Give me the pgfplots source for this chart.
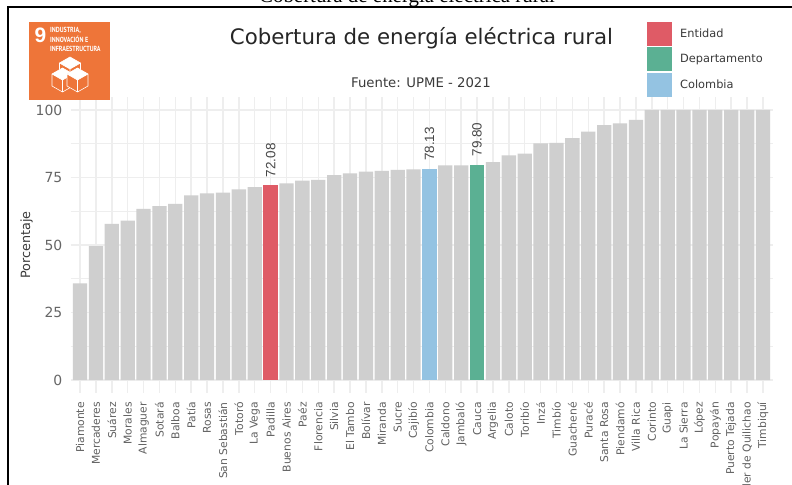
\documentclass[border=0pt]{standalone}
\usepackage{fontspec}
\setmainfont{DejaVu Sans}
\newfontfamily\capfont{Liberation Serif}
\newfontfamily\valfont{Liberation Sans}
\newfontfamily\logofont{PT Sans}
\usepackage{pgfplots}
\usepackage{pgfplotstable}
\pgfplotsset{compat=1.18}

\definecolor{barra}{HTML}{CFCFCF}
\definecolor{rejilla}{HTML}{EEEEEE}
\definecolor{entidad}{HTML}{DF5B66}
\definecolor{depto}{HTML}{5BB093}
\definecolor{colombia}{HTML}{94C3E2}
\definecolor{ods}{HTML}{EE7539}
\definecolor{texto}{HTML}{3A3A3A}

% idx = posicion en el eje, val = porcentaje
\pgfplotstableread{
idx val
0 35.8
1 49.6
2 57.8
3 59.0
4 63.4
5 64.4
6 65.2
7 68.4
8 69.1
9 69.4
10 70.6
11 71.4
13 72.8
14 73.8
15 74.1
16 75.9
17 76.5
18 77.2
19 77.4
20 77.8
21 78.0
23 79.5
24 79.5
26 80.7
27 83.2
28 83.8
29 87.6
30 87.8
31 89.6
32 92.0
33 94.4
34 95.0
35 96.3
36 100
37 100
38 100
39 100
40 100
41 100
42 100
43 100
}\municipios

\newcommand{\cubo}[2]{%
  \begin{scope}[shift={(#1,#2)}, draw=white, line width=0.6pt, line join=round]
    \fill[ods] (0,12) -- (10.5,6) -- (10.5,-6) -- (0,-12) -- (-10.5,-6) -- (-10.5,6) -- cycle;
    \fill[white] (0,12) -- (10.5,6) -- (0,0) -- (-10.5,6) -- cycle;
    \draw (0,12) -- (10.5,6) -- (10.5,-6) -- (0,-12) -- (-10.5,-6) -- (-10.5,6) -- cycle;
    \draw (-10.5,6) -- (0,0) -- (10.5,6) (0,0) -- (0,-12);
  \end{scope}}

\begin{document}
\begin{tikzpicture}[x=1bp, y=1bp]
\useasboundingbox (0,0) rectangle (792,485);
\clip (0,0) rectangle (792,485);

% leyenda de la pagina, cortada arriba
\node[anchor=base, inner sep=0pt, text=black] at (407,482)
  {\capfont\fontsize{21}{24}\selectfont Cobertura de energía eléctrica rural};
\fill[white] (8,0) rectangle (792,477.5);
\draw[black, line width=2pt] (8,0) -- (8,477.5) -- (792,477.5);

\begin{axis}[
  at={(70.5bp,92bp)}, anchor=south west,
  scale only axis,
  width=702bp, height=296bp,
  xmin=-0.6, xmax=43.6,
  ymin=-4.8, ymax=104.8,
  axis line style={draw=none},
  major tick length=0pt, minor tick length=0pt,
  xtick={0,...,43},
  xticklabels={Piamonte,Mercaderes,Suárez,Morales,Almaguer,Sotará,Balboa,Patía,Rosas,San Sebastián,Totoró,La Vega,Padilla,Buenos Aires,Paéz,Florencia,Silvia,El Tambo,Bolívar,Miranda,Sucre,Cajibío,Colombia,Caldono,Jambaló,Cauca,Argelia,Caloto,Toribío,Inzá,Timbío,Guachené,Puracé,Santa Rosa,Piendamó,Villa Rica,Corinto,Guapi,La Sierra,López,Popayán,Puerto Tejada,Santander de Quilichao,Timbiquí},
  xticklabel style={rotate=90, anchor=east, font=\fontsize{10.8}{12}\selectfont, text=black!62, xshift=-9bp, inner sep=0pt},
  ytick={0,25,50,75,100},
  minor ytick={12.5,37.5,62.5,87.5},
  yticklabel style={font=\fontsize{14}{16}\selectfont, text=black!60, /pgf/number format/assume math mode=true, inner sep=0pt, xshift=-8bp},
  grid=both,
  major grid style={rejilla, line width=1.5pt},
  minor grid style={rejilla, line width=0.8pt},
  ylabel={Porcentaje},
  ylabel style={font=\fontsize{12.8}{15}\selectfont, text=texto, at={(axis description cs:-0.0625,0.5)}, anchor=center},
  legend style={at={(0.8215,1.2534)}, anchor=north west, draw=none, fill=none,
    font=\fontsize{11.4}{13}\selectfont, text=texto,
    row sep=1.5bp, inner sep=0pt, outer sep=0pt, nodes={inner sep=0pt}},
  legend cell align=left,
  % el path vacio deja el hueco entre cuadro y texto
  legend image code/.code={\fill[#1] (0bp,-12bp) rectangle (25bp,12bp); \path (33bp,0bp);},
  clip=false,
  valor/.style={ybar, bar width=14.3bp, bar shift=0pt, draw=none, fill=#1,
    nodes near coords,
    /pgf/number format/fixed, /pgf/number format/fixed zerofill, /pgf/number format/precision=2,
    /pgf/number format/assume math mode=true,
    nodes near coords style={shift={(0bp,8bp)}, rotate=90, anchor=west, inner sep=0pt,
      font=\valfont\fontsize{13.5}{16}\selectfont, text=black!72}},
]
\addplot[ybar, bar width=14.3bp, bar shift=0pt, draw=none, fill=barra, forget plot] table[x=idx, y=val] {\municipios};
\addplot[valor=entidad] coordinates {(12,72.08)};
\addlegendentry{Entidad}
\addplot[valor=depto] coordinates {(25,79.80)};
\addlegendentry{Departamento}
\addplot[valor=colombia] coordinates {(22,78.13)};
\addlegendentry{Colombia}
\end{axis}

% titulo y fuente
\node[anchor=center, inner sep=0pt, text=black!85] at (421.5,447)
  {\fontsize{21.4}{24}\selectfont Cobertura de energía eléctrica rural};
\node[anchor=center, inner sep=0pt, text=texto] at (421,402)
  {\fontsize{13.3}{15}\selectfont Fuente: UPME - 2021};

% logo ODS 9
\fill[ods] (29.3,384.5) rectangle (110,462.5);
\node[anchor=west, inner sep=0pt, text=white] at (34.5,450)
  {\valfont\bfseries\fontsize{21}{21}\selectfont 9};
\begin{scope}[every node/.style={anchor=west, inner sep=0pt, text=white, font=\logofont\bfseries\fontsize{7.4}{8}\selectfont, xscale=0.82}]
  \node at (50,455) {INDUSTRIA,};
  \node at (50,445.5) {INNOVACIÓN E};
  \node at (50,436) {INFRAESTRUCTURA};
\end{scope}
\cubo{70}{416}
\cubo{62.5}{405}
\cubo{77.5}{405}
\end{tikzpicture}
\end{document}
